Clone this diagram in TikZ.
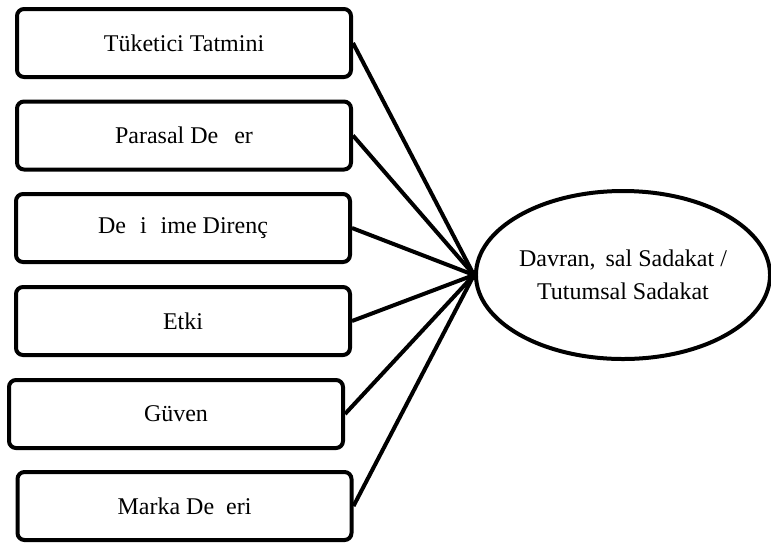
\documentclass[tikz,border=0pt]{standalone}
\usepackage{fontspec}
\setmainfont{Liberation Serif}
\usetikzlibrary{shapes.geometric}
\begin{document}
\begin{tikzpicture}[x=0.5pt,y=-0.5pt,
  factor/.style={draw,line width=2pt,rounded corners=3.5pt,minimum width=167pt,
    minimum height=34pt,inner sep=0pt,font=\fontsize{12}{14}\selectfont},
  outcome/.style={draw,ellipse,line width=2pt,minimum width=145pt,minimum height=84pt,
    inner sep=0pt,align=center,font=\fontsize{12}{16.5}\selectfont},
  link/.style={line width=2pt}]
\useasboundingbox (0,0) rectangle (771,543);
\node[factor] (f1) at (184,43) {Tüketici Tatmini};
\node[factor] (f2) at (184,135.5) {Parasal De\hspace{8pt}er};
\node[factor] (f3) at (183,228) {De\hspace{7pt}i\hspace{7pt}ime Direnç};
\node[factor] (f4) at (183,321) {Etki};
\node[factor] (f5) at (176,414) {Güven};
\node[factor] (f6) at (184.5,506) {Marka De\hspace{6pt}eri};
\node[outcome] (y) at (623,275) {Davran,\hspace{5pt}sal Sadakat /\\Tutumsal Sadakat};
\foreach \f in {f1,f2,f3,f4,f5,f6}
  \draw[link] (\f.east) -- (y.west);
\end{tikzpicture}
\end{document}
